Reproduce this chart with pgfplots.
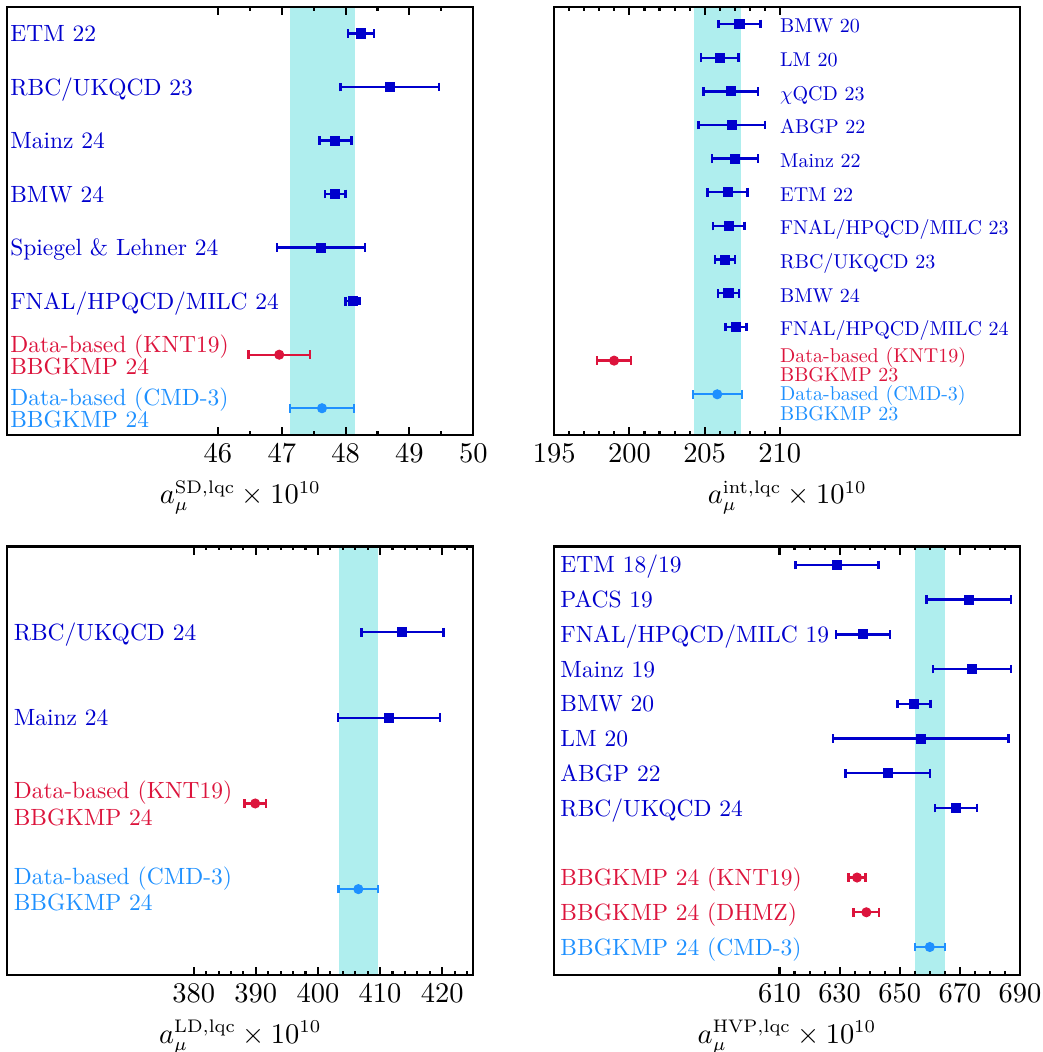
\documentclass[border=0pt]{standalone}
\usepackage{graphicx}
\usepackage{pgfplots}
\pgfplotsset{compat=1.18}
\definecolor{lqcblue}{RGB}{0,0,205}
\definecolor{knt}{RGB}{220,20,60}
\definecolor{cmd}{RGB}{30,144,255}
\definecolor{bandc}{RGB}{175,238,238}
\pgfplotsset{
  panel/.style={
    scale only axis, width=179.23pt, height=164.73pt,
    axis line style={line width=0.9pt},
    ytick=\empty,
    tick align=inside,
    major tick length=3.1pt, minor tick length=1.5pt,
    every tick/.style={black, line width=0.8pt},
    tick label style={font=\fontsize{10.5}{12}\selectfont},
    label style={font=\fontsize{10.5}{12}\selectfont},
    axis on top,
    y dir=reverse,
  },
  pt/.style={only marks, mark size=1.73pt, color=#1,
    /pgfplots/error bars/x dir=both, /pgfplots/error bars/x explicit,
    /pgfplots/error bars/error mark=|,
    /pgfplots/error bars/error bar style={line width=0.9pt, #1},
    /pgfplots/error bars/error mark options={line width=0.9pt, mark size=1.67pt, #1}},
  lat/.style={pt=lqcblue, mark=square*},
  kn/.style={pt=knt, mark=*},
  cm/.style={pt=cmd, mark=*},
  band/.style={fill=bandc, draw=none, forget plot},
}
\tikzset{
  lab/.style={anchor=west, inner sep=0pt, text height=6.83pt, text depth=0pt,
    font=\fontsize{10}{12}\selectfont, text=#1, scale=0.904, transform shape},
  labs/.style={anchor=west, inner sep=0pt, text height=6.83pt, text depth=0pt,
    font=\fontsize{10}{12}\selectfont, text=#1, scale=0.769, transform shape},
}
\begin{document}
\begin{tikzpicture}
\useasboundingbox (0,0) rectangle (401.15pt,-404.62pt);
% ---------------- Panel 1: SD
\begin{axis}[panel, at={(2.81pt,-2.58pt)}, anchor=north west,
  xmin=42.70, xmax=50, ymin=0.5, ymax=8.5,
  xtick={46,47,48,49,50}, minor xtick={46.5,47.5,48.5,49.5},
  xlabel={$a_\mu^{\mathrm{SD,lqc}}\times 10^{10}$}]
\addplot[band] coordinates {(47.13,0.5) (48.14,0.5) (48.14,8.5) (47.13,8.5)} -- cycle;
\addplot[lat] coordinates {
 (48.24,1) +- (0.20,0)
 (48.69,2) +- (0.77,0)
 (47.84,3) +- (0.25,0)
 (47.84,4) +- (0.16,0)
 (47.61,5) +- (0.69,0)
 (48.11,6) +- (0.11,0)};
\addplot[kn] coordinates {(46.96,7) +- (0.48,0)};
\addplot[cm] coordinates {(47.63,8) +- (0.50,0)};
\node[lab=lqcblue] at (axis cs:42.74,1) {ETM 22};
\node[lab=lqcblue] at (axis cs:42.74,2) {RBC/UKQCD 23};
\node[lab=lqcblue] at (axis cs:42.74,3) {Mainz 24};
\node[lab=lqcblue] at (axis cs:42.74,4) {BMW 24};
\node[lab=lqcblue] at (axis cs:42.74,5) {Spiegel \& Lehner 24};
\node[lab=lqcblue] at (axis cs:42.74,6) {FNAL/HPQCD/MILC 24};
\node[lab=knt] at (axis cs:42.74,6.806) {Data-based (KNT19)};
\node[lab=knt] at (axis cs:42.74,7.223) {BBGKMP 24};
\node[lab=cmd] at (axis cs:42.74,7.80) {Data-based (CMD-3)};
\node[lab=cmd] at (axis cs:42.74,8.206) {BBGKMP 24};
\end{axis}
% ---------------- Panel 2: int
\begin{axis}[panel, at={(213.19pt,-2.58pt)}, anchor=north west,
  xmin=195, xmax=226, ymin=0.486, ymax=13.21,
  xtick={195,200,205,210}, minor xtick={196,197,198,199,201,202,203,204,206,207,208,209},
  xlabel={$a_\mu^{\mathrm{int,lqc}}\times 10^{10}$}]
\addplot[band] coordinates {(204.27,0.486) (207.43,0.486) (207.43,13.21) (204.27,13.21)} -- cycle;
\addplot[lat] coordinates {
 (207.32,1) +- (1.40,0)
 (206.02,2) +- (1.24,0)
 (206.73,3) +- (1.81,0)
 (206.81,4) +- (2.21,0)
 (207.01,5) +- (1.52,0)
 (206.53,6) +- (1.33,0)
 (206.60,7) +- (1.05,0)
 (206.37,8) +- (0.66,0)
 (206.59,9) +- (0.70,0)
 (207.08,10) +- (0.70,0)};
\addplot[kn] coordinates {(198.98,11) +- (1.13,0)};
\addplot[cm] coordinates {(205.84,12) +- (1.63,0)};
\node[labs=lqcblue] at (axis cs:210,1.06) {BMW 20};
\node[labs=lqcblue] at (axis cs:210,2.06) {LM 20};
\node[labs=lqcblue] at (axis cs:210,3.06) {$\chi$QCD 23};
\node[labs=lqcblue] at (axis cs:210,4.06) {ABGP 22};
\node[labs=lqcblue] at (axis cs:210,5.06) {Mainz 22};
\node[labs=lqcblue] at (axis cs:210,6.06) {ETM 22};
\node[labs=lqcblue] at (axis cs:210,7.06) {FNAL/HPQCD/MILC 23};
\node[labs=lqcblue] at (axis cs:210,8.06) {RBC/UKQCD 23};
\node[labs=lqcblue] at (axis cs:210,9.06) {BMW 24};
\node[labs=lqcblue] at (axis cs:210,10.06) {FNAL/HPQCD/MILC 24};
\node[labs=knt] at (axis cs:210,10.86) {Data-based (KNT19)};
\node[labs=knt] at (axis cs:210,11.42) {BBGKMP 23};
\node[labs=cmd] at (axis cs:210,11.97) {Data-based (CMD-3)};
\node[labs=cmd] at (axis cs:210,12.57) {BBGKMP 23};
\end{axis}
% ---------------- Panel 3: LD
\begin{axis}[panel, at={(2.81pt,-210.19pt)}, anchor=north west,
  xmin=350, xmax=425, ymin=0, ymax=5,
  xtick={380,390,400,410,420},
  minor xtick={382,384,386,388,392,394,396,398,402,404,406,408,412,414,416,418,422,424},
  xlabel={$a_\mu^{\mathrm{LD,lqc}}\times 10^{10}$}]
\addplot[band] coordinates {(403.4,0) (409.7,0) (409.7,5) (403.4,5)} -- cycle;
\addplot[lat] coordinates {
 (413.6,1) +- (6.6,0)
 (411.4,2) +- (8.2,0)};
\addplot[kn] coordinates {(389.9,3) +- (1.75,0)};
\addplot[cm] coordinates {(406.5,4) +- (3.2,0)};
\node[lab=lqcblue] at (axis cs:350.97,1) {RBC/UKQCD 24};
\node[lab=lqcblue] at (axis cs:350.97,2) {Mainz 24};
\node[lab=knt] at (axis cs:350.97,2.844) {Data-based (KNT19)};
\node[lab=knt] at (axis cs:350.97,3.167) {BBGKMP 24};
\node[lab=cmd] at (axis cs:350.97,3.848) {Data-based (CMD-3)};
\node[lab=cmd] at (axis cs:350.97,4.16) {BBGKMP 24};
\end{axis}
% ---------------- Panel 4: HVP
\begin{axis}[panel, at={(213.08pt,-210.19pt)}, anchor=north west,
  xmin=535, xmax=690, ymin=0.47, ymax=12.8,
  xtick={610,630,650,670,690},
  minor xtick={615,620,625,635,640,645,655,660,665,675,680,685},
  xlabel={$a_\mu^{\mathrm{HVP,lqc}}\times 10^{10}$}]
\addplot[band] coordinates {(655.2,0.47) (665.2,0.47) (665.2,12.8) (655.2,12.8)} -- cycle;
\addplot[lat] coordinates {
 (629.1,1) +- (13.8,0)
 (673.0,2) +- (14.1,0)
 (637.8,3) +- (8.9,0)
 (674.0,4) +- (13.0,0)
 (654.7,5) +- (5.5,0)
 (657.0,6) +- (29.2,0)
 (646.0,7) +- (14.0,0)
 (668.7,8) +- (6.9,0)};
\addplot[kn] coordinates {(635.8,10) +- (2.8,0) (638.9,11) +- (4.3,0)};
\addplot[cm] coordinates {(660.0,12) +- (5.0,0)};
\node[lab=lqcblue] at (axis cs:537,1) {ETM 18/19};
\node[lab=lqcblue] at (axis cs:537,2) {PACS 19};
\node[lab=lqcblue] at (axis cs:537,3) {FNAL/HPQCD/MILC 19};
\node[lab=lqcblue] at (axis cs:537,4) {Mainz 19};
\node[lab=lqcblue] at (axis cs:537,5) {BMW 20};
\node[lab=lqcblue] at (axis cs:537,6) {LM 20};
\node[lab=lqcblue] at (axis cs:537,7) {ABGP 22};
\node[lab=lqcblue] at (axis cs:537,8) {RBC/UKQCD 24};
\node[lab=knt] at (axis cs:537,10) {BBGKMP 24 (KNT19)};
\node[lab=knt] at (axis cs:537,11) {BBGKMP 24 (DHMZ)};
\node[lab=cmd] at (axis cs:537,12) {BBGKMP 24 (CMD-3)};
\end{axis}
\end{tikzpicture}
\end{document}
